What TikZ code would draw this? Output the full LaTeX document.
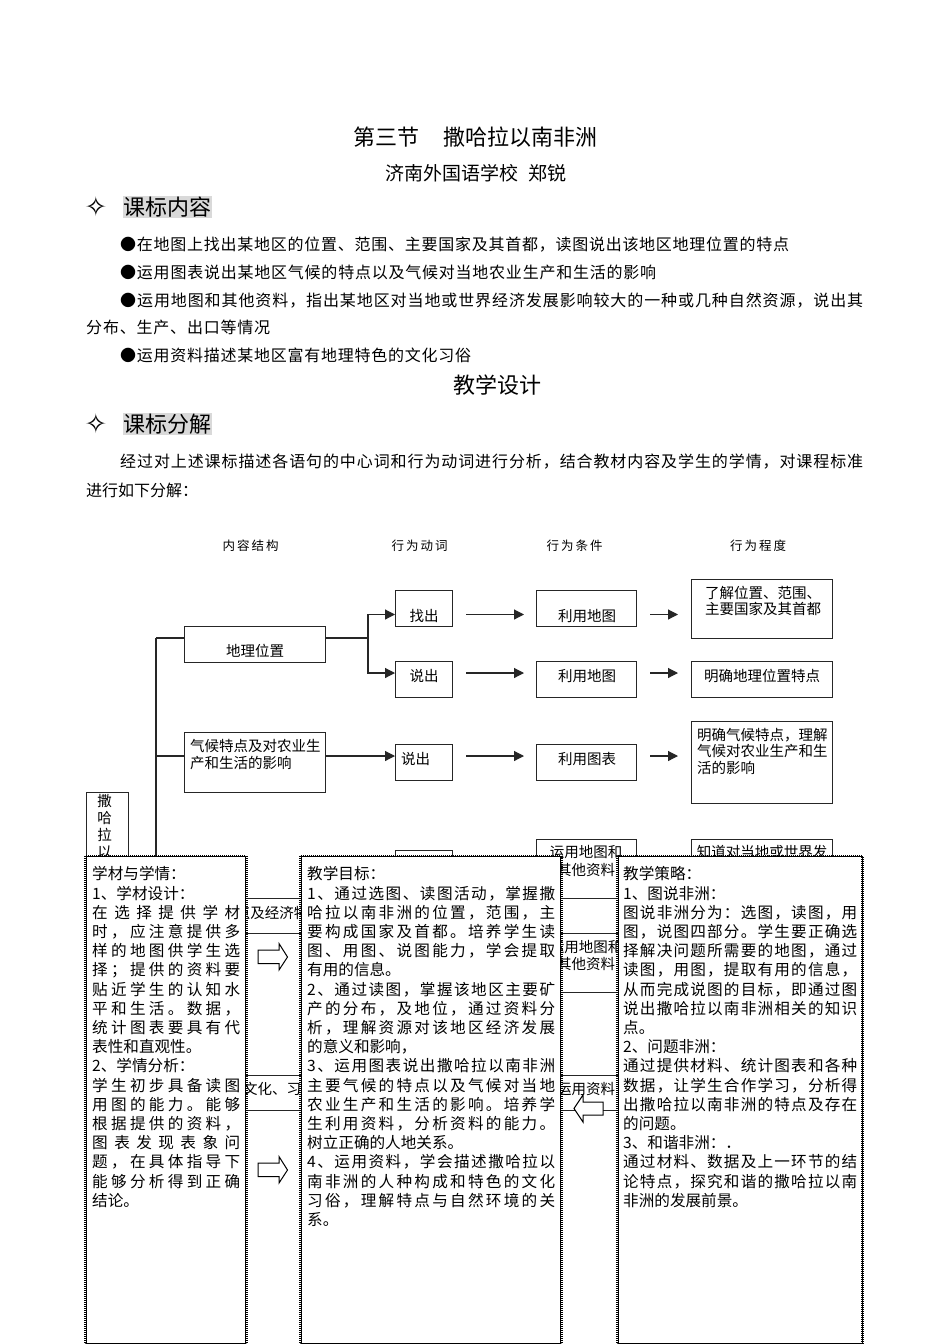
\documentclass[tikz,border=0pt]{standalone}
\usepackage{fontspec}
\setmainfont{Noto Sans CJK SC}
\newfontfamily\symfont{DejaVu Sans}
\usetikzlibrary{arrows.meta}
\makeatletter
\def\sprA#1{\ifx#1\relax\else\hfil#1\expandafter\sprA\fi}
\def\sprB#1#2\relax{#1\sprA#2\relax}
\newcommand\J[1]{\par\hbox to\hsize{\sprB#1\relax}}
\newcommand\Jw[2]{\hbox to #1{\sprB#2\relax}}
\newcommand\N[1]{\par\hbox{#1}}
\makeatother
\tikzset{
  bxs/.style={draw=black!85,line width=1.2pt,fill=white,inner sep=0pt,anchor=north west},
  lnk/.style={draw=black!85,line width=1.2pt},
  arr/.style={lnk,-{Triangle[length=10pt,width=10pt]}},
  hollow/.style={draw=black,line width=1pt,fill=white,line join=miter},
  ttl/.style={inner sep=0pt,anchor=base,font=\fontsize{22}{26}\selectfont},
  hd/.style={inner sep=0pt,anchor=base west,font=\fontsize{22}{26}\selectfont},
  bodyl/.style={inner sep=0pt,anchor=base west,font=\fontsize{16}{20}\selectfont},
  sm/.style={inner sep=0pt,anchor=base,font=\fontsize{14.5}{17}\selectfont},
  sml/.style={inner sep=0pt,anchor=base west,font=\fontsize{14.5}{17}\selectfont},
  head/.style={inner sep=0pt,anchor=base,font=\fontsize{12.5}{15}\selectfont},
  panelt/.style={inner sep=0pt,anchor=north west,font=\fontsize{15.6}{19.2}\selectfont},
  panel/.style={draw=black,line width=1.2pt,fill=white,inner sep=0pt,anchor=north west},
  dots/.style={draw=black,line width=2.6pt,dash pattern=on 1pt off 1pt},
}
\newcommand\bx[5]{\pgfmathsetmacro\bxw{#4-#2}\pgfmathsetmacro\bxh{#5-#3}%
  \node[bxs,minimum width=\bxw pt,minimum height=\bxh pt] (#1) at (#2,#3) {};}
\newcommand\pn[5]{\pgfmathsetmacro\bxw{#4-#2}\pgfmathsetmacro\bxh{#5-#3}%
  \node[panel,minimum width=\bxw pt,minimum height=\bxh pt] (#1) at (#2,#3) {};
  \draw[dots] (#1.north west) rectangle (#1.south east);}
\begin{document}
\begin{tikzpicture}[x=1pt,y=-1pt]
\useasboundingbox (0,0) rectangle (950,1344);
\fill[white] (0,0) rectangle (950,1344);
% page text
\node[inner sep=0pt,anchor=base west,font=\fontsize{22}{26}\selectfont] (title) at (353,145) {第三节\hspace{24pt}撒哈拉以南非洲};
\node[inner sep=0pt,anchor=base west,font=\fontsize{19}{22}\selectfont] (author) at (385,180) {济南外国语学校\hspace{10pt}郑锐};
\node[inner sep=0pt,anchor=base,font=\symfont\fontsize{27}{30}\selectfont] (sym1) at (96,216) {✧};
\node[inner sep=0pt,anchor=north west,fill=black!15,minimum width=89pt,minimum height=22pt] (hl1) at (123,196) {};
\node[hd] (h1) at (123,215) {课标内容};
\node[bodyl] (l1) at (120,250) {\Jw{669pt}{●在地图上找出某地区的位置、范围、主要国家及其首都，读图说出该地区地理位置的特点}};
\node[bodyl] (l2) at (120,278) {\Jw{536pt}{●运用图表说出某地区气候的特点以及气候对当地农业生产和生活的影响}};
\node[bodyl] (l3) at (120,306) {\Jw{743pt}{●运用地图和其他资料，指出某地区对当地或世界经济发展影响较大的一种或几种自然资源，说出其}};
\node[bodyl] (l4) at (86,333) {\Jw{184pt}{分布、生产、出口等情况}};
\node[bodyl] (l5) at (120,361) {\Jw{351pt}{●运用资料描述某地区富有地理特色的文化习俗}};
\node[ttl] (design) at (497,393) {教学设计};
\node[inner sep=0pt,anchor=base,font=\symfont\fontsize{27}{30}\selectfont] (sym2) at (96,433) {✧};
\node[inner sep=0pt,anchor=north west,fill=black!15,minimum width=89pt,minimum height=22pt] (hl2) at (123,413) {};
\node[hd] (h2) at (123,432) {课标分解};
\node[bodyl] (p1) at (120,467) {\Jw{743pt}{经过对上述课标描述各语句的中心词和行为动词进行分析，结合教材内容及学生的学情，对课程标准}};
\node[bodyl] (p2) at (86,496) {\Jw{104pt}{进行如下分解：}};
% column heads
\node[head] (c1) at (250.5,550) {\Jw{56pt}{内容结构}};
\node[head] (c2) at (419.5,550) {\Jw{56pt}{行为动词}};
\node[head] (c3) at (574.5,550) {\Jw{56pt}{行为条件}};
\node[head] (c4) at (758,550) {\Jw{56pt}{行为程度}};
% trunk coordinates
\coordinate (r1) at (0,614.5);
\coordinate (r0) at (0,638);
\coordinate (r2) at (0,673);
\coordinate (r3) at (0,756);
\coordinate (tk) at (156,638);
\coordinate (tkb) at (156,1000);
\coordinate (jn) at (368,638);
\coordinate (a1s) at (466,614.5); \coordinate (a1e) at (524,614.5);
\coordinate (b1s) at (650,614.5); \coordinate (b1e) at (678,614.5);
\coordinate (a2s) at (466,673); \coordinate (a2e) at (524,673);
\coordinate (b2s) at (650,673); \coordinate (b2e) at (678,673);
\coordinate (a3s) at (466,756); \coordinate (a3e) at (524,756);
\coordinate (b3s) at (650,756); \coordinate (b3e) at (678,756);
% boxes
\bx{sah}{86}{792}{128}{900}
\bx{geo}{184}{626}{325}{662}
\bx{zc}{395}{590}{452}{626}
\bx{sc}{395}{661}{452}{697}
\bx{m1}{536}{590}{636}{626}
\bx{m2}{536}{661}{636}{697}
\bx{d1}{691}{579}{832}{638}
\bx{d2}{691}{661}{832}{697}
\bx{cli}{184}{732}{325}{792}
\bx{sc2}{395}{744}{452}{780}
\bx{m3}{536}{744}{636}{780}
\bx{d3}{691}{721}{832}{803}
\bx{res}{184}{898}{325}{933}
\bx{v4}{395}{850}{452}{886}
\bx{m4}{536}{839}{636}{898}
\bx{d4}{691}{839}{832}{900}
\bx{m5}{536}{933}{636}{992}
\bx{cul}{184}{1075}{325}{1110}
\bx{m6}{536}{1075}{636}{1110}
% connectors
\draw[lnk] (tk) -- (tkb);
\draw[lnk] (tk) -- (geo.west|-r0);
\draw[lnk] (tk|-r3) -- (cli.west|-r3);
\draw[lnk] (geo.east|-r0) -- (jn);
\draw[arr] (jn) |- (zc.west|-r1);
\draw[arr] (jn) |- (sc.west|-r2);
\draw[arr] (cli.east|-r3) -- (sc2.west|-r3);
\draw[arr] (a1s) -- (a1e); \draw[arr] (b1s) -- (b1e);
\draw[arr] (a2s) -- (a2e); \draw[arr] (b2s) -- (b2e);
\draw[arr] (a3s) -- (a3e); \draw[arr] (b3s) -- (b3e);
% box texts
\node[sm] (t1) at (255,656) {地理位置};
\node[sm] (t2) at (424,621) {找出};
\node[sm] (t3) at (424,681) {说出};
\node[sm] (t4) at (587,621) {利用地图};
\node[sm] (t5) at (587,681) {利用地图};
\node[sm] (t6) at (763,598) {了解位置、范围、};
\node[sm] (t7) at (763,614) {主要国家及其首都};
\node[sm] (t8) at (762,681) {明确地理位置特点};
\node[sml] (t9) at (190,751) {气候特点及对农业生};
\node[sml] (t10) at (190,768) {产和生活的影响};
\node[sml] (t11) at (401,764) {说出};
\node[sm] (t12) at (587,764) {利用图表};
\node[sml] (t13) at (697,740) {明确气候特点，理解};
\node[sml] (t14) at (697,756) {气候对农业生产和生};
\node[sml] (t15) at (697,773) {活的影响};
\node[sm] (t16) at (104.5,806) {撒};
\node[sm] (t17) at (104.5,823) {哈};
\node[sm] (t18) at (104.5,840) {拉};
\node[sm] (t19) at (104.5,857) {以};
\node[sm] (t20) at (586,857) {运用地图和};
\node[sm] (t21) at (586,875) {其他资料};
\node[sm] (t22) at (762,857) {知道对当地或世界发};
\node[sm] (t23) at (586,952) {运用地图和};
\node[sm] (t24) at (586,969) {其他资料};
\node[sm] (t25) at (586,1094) {运用资料};
\node[sm] (t26) at (272,918) {点及经济特};
\node[sm] (t27) at (272,1094) {文化、习};
% panels
\pn{pa}{85.5}{856}{245}{1343}
\pn{pb}{300.5}{856}{560}{1343}
\pn{pc}{617.5}{856}{861.5}{1343}
\node[panelt,text width=148pt] (ta) at (92,860.5) {%
\N{学材与学情：}\N{1、学材设计：}\J{在选择提供学材}\J{时，应注意提供多}\J{样的地图供学生选}\J{择；提供的资料要}\J{贴近学生的认知水}\J{平和生活。数据，}\J{统计图表要具有代}\N{表性和直观性。}\N{2、学情分析：}\J{学生初步具备读图}\J{用图的能力。能够}\J{根据提供的资料，}\J{图表发现表象问}\J{题，在具体指导下}\J{能够分析得到正确}\N{结论。}};
\node[panelt,text width=248pt] (tb) at (307,860.5) {%
\N{教学目标：}\J{1、通过选图、读图活动，掌握撒}\J{哈拉以南非洲的位置，范围，主}\J{要构成国家及首都。培养学生读}\J{图、用图、说图能力，学会提取}\N{有用的信息。}\J{2、通过读图，掌握该地区主要矿}\J{产的分布，及地位，通过资料分}\J{析，理解资源对该地区经济发展}\N{的意义和影响，}\J{3、运用图表说出撒哈拉以南非洲}\J{主要气候的特点以及气候对当地}\J{农业生产和生活的影响。培养学}\J{生利用资料，分析资料的能力。}\N{树立正确的人地关系。}\J{4、运用资料，学会描述撒哈拉以}\J{南非洲的人种构成和特色的文化}\J{习俗，理解特点与自然环境的关}\N{系。}};
\node[panelt,text width=234pt] (tc) at (623,860.5) {%
\N{教学策略：}\N{1、图说非洲：}\J{图说非洲分为：选图，读图，用}\J{图，说图四部分。学生要正确选}\J{择解决问题所需要的地图，通过}\J{读图，用图，提取有用的信息，}\J{从而完成说图的目标，即通过图}\J{说出撒哈拉以南非洲相关的知识}\N{点。}\N{2、问题非洲：}\J{通过提供材料、统计图表和各种}\J{数据，让学生合作学习，分析得}\J{出撒哈拉以南非洲的特点及存在}\N{的问题。}\N{3、和谐非洲：．}\J{通过材料、数据及上一环节的结}\J{论特点，探究和谐的撒哈拉以南}\N{非洲的发展前景。}};
% hollow block arrows
\draw[hollow] (258,950) -- (279,950) -- (279,943.5) -- (287.5,957) -- (279,970) -- (279,963.5) -- (258,963.5) -- cycle;
\draw[hollow] (258,1163) -- (279,1163) -- (279,1156.5) -- (287.5,1170) -- (279,1183) -- (279,1176.5) -- (258,1176.5) -- cycle;
\draw[hollow] (603,1102) -- (583,1102) -- (583,1095) -- (574,1108.5) -- (583,1122) -- (583,1115) -- (603,1115) -- cycle;
\end{tikzpicture}
\end{document}
